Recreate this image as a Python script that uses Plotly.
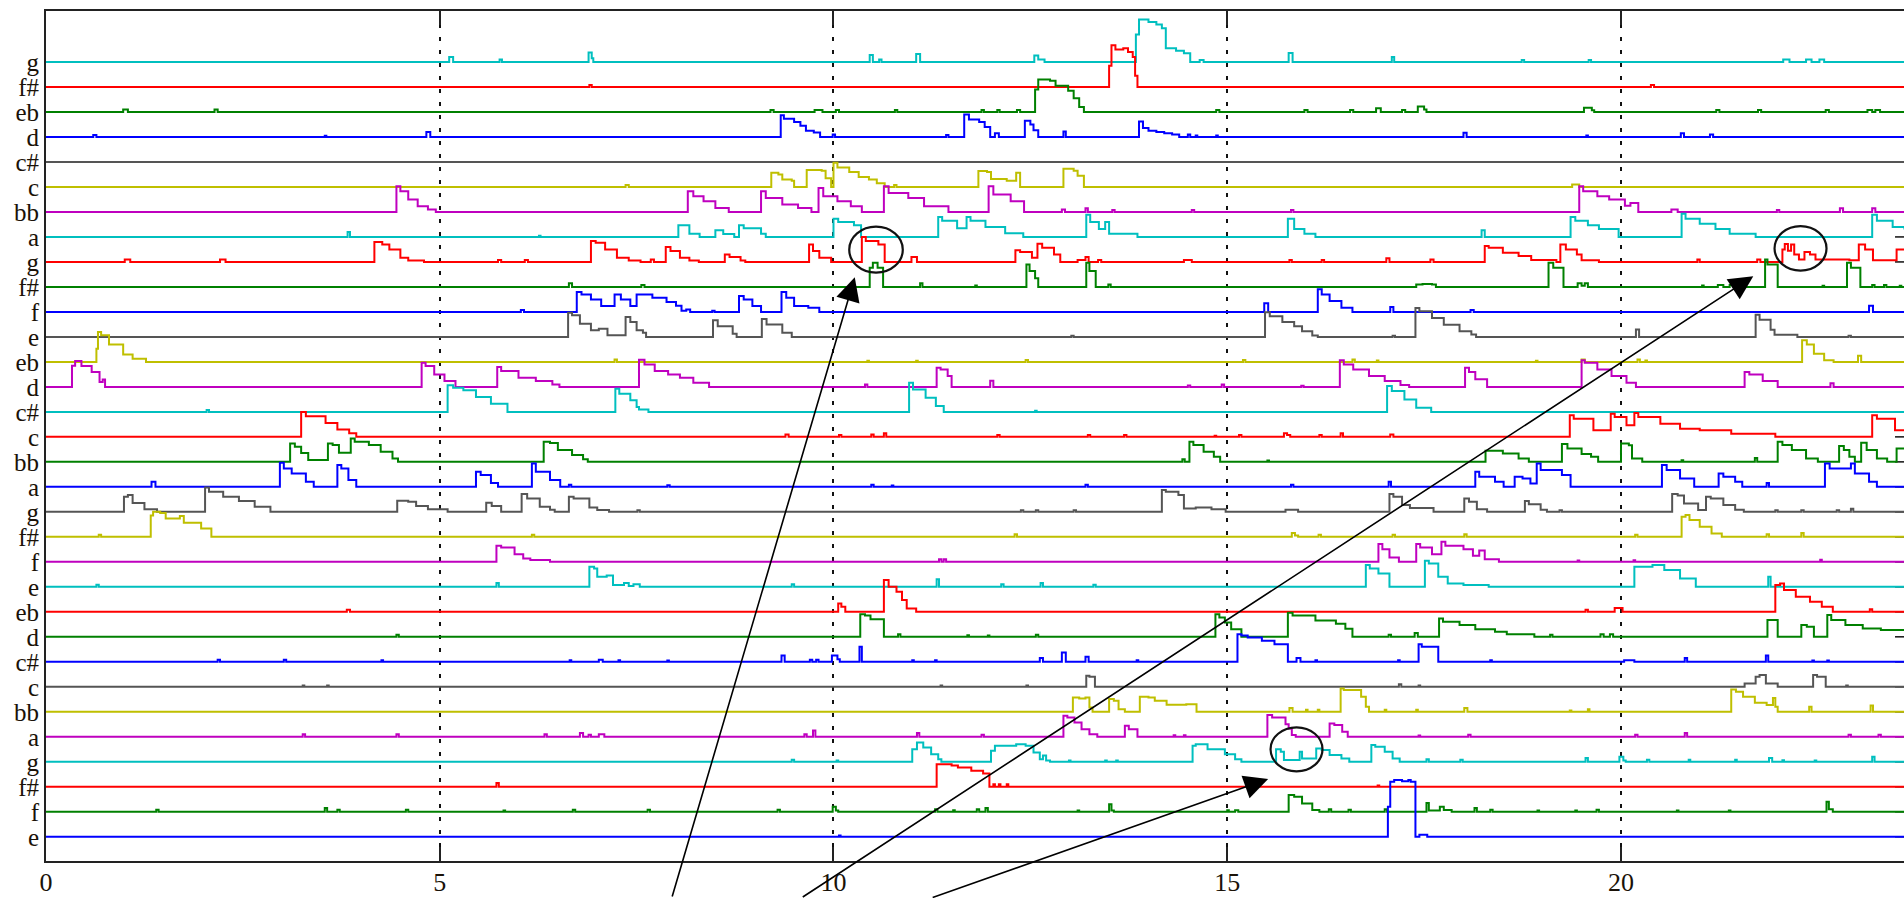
import plotly.graph_objects as go

# Pitch rows from bottom (index 0) to top (index 31)
row_labels = ["e", "f", "f#", "g", "a", "bb", "c", "c#", "d", "eb",
              "e", "f", "f#", "g", "a", "bb", "c", "c#", "d", "eb",
              "e", "f", "f#", "g", "a", "bb", "c", "c#", "d", "eb",
              "f#", "g"]

# Each row: (time in s, level above the row baseline) breakpoints of a step envelope
e_0 = [(10.07, 0.05), (10.09, 0), (17.04, 1.2), (17.07, 2.2), (17.12, 2.27), (17.22, 2.22), (17.3, 2.27),
       (17.33, 2.2), (17.39, 0), (17.44, 0.08), (17.54, 0)]
f_1 = [(1.4, 0.08), (1.43, 0), (3.54, 0.15), (3.57, 0), (3.7, 0.08), (3.73, 0), (4.57, 0.08), (4.6, 0),
       (5.81, 0.05), (5.83, 0), (6.69, 0.08), (6.72, 0), (7.64, 0.08), (7.67, 0), (9.29, 0.08), (9.32, 0),
       (9.99, 0.2), (10.03, 0.05), (10.06, 0), (11.29, 0.1), (11.32, 0), (11.52, 0.06), (11.54, 0),
       (11.82, 0.1), (11.85, 0), (11.93, 0.15), (11.96, 0), (13.1, 0.05), (13.12, 0), (13.5, 0.3),
       (13.53, 0.05), (13.56, 0), (15.0, 0.06), (15.02, 0), (15.1, 0.06), (15.14, 0), (15.78, 0.67),
       (15.85, 0.6), (15.95, 0.33), (16.08, 0.07), (16.17, 0), (16.29, 0.1), (16.32, 0), (16.54, 0.08),
       (16.57, 0), (17.0, 0.1), (17.03, 0), (17.53, 0.35), (17.56, 0.05), (17.7, 0.2), (17.75, 0.07),
       (17.85, 0), (18.14, 0.15), (18.17, 0), (18.34, 0.08), (18.37, 0), (18.94, 0.05), (18.96, 0),
       (19.42, 0.05), (19.44, 0), (19.69, 0.08), (19.72, 0), (20.71, 0.05), (20.73, 0), (21.37, 0.05),
       (21.39, 0), (22.61, 0.4), (22.64, 0.1), (22.69, 0)]
fs_2 = [(5.72, 0.15), (5.75, 0), (11.31, 0.9), (11.5, 0.85), (11.58, 0.77), (11.75, 0.64), (11.9, 0.53),
        (11.98, 0), (12.03, 0.1), (12.05, 0), (12.1, 0.1), (12.12, 0), (12.2, 0.1), (12.22, 0),
        (16.91, 0.05), (16.93, 0)]
g_3 = [(9.47, 0.08), (9.5, 0), (10.04, 0.05), (10.06, 0), (11.0, 0.5), (11.06, 0.77), (11.14, 0.57),
       (11.24, 0.3), (11.33, 0.1), (11.37, 0), (12.0, 0.44), (12.05, 0.64), (12.32, 0.7), (12.44, 0.64),
       (12.54, 0.37), (12.62, 0.1), (12.66, 0.25), (12.7, 0.05), (12.75, 0), (12.99, 0.05), (13.01, 0),
       (13.45, 0.05), (13.47, 0), (13.59, 0.05), (13.61, 0), (14.56, 0.64), (14.6, 0.7), (14.75, 0.5),
       (14.97, 0.3), (15.1, 0.1), (15.18, 0), (15.62, 0.5), (15.68, 0.4), (15.72, 0.07), (15.92, 0.4),
       (15.95, 0.13), (16.13, 0.53), (16.2, 0.47), (16.3, 0.27), (16.45, 0.13), (16.55, 0), (16.83, 0.67),
       (16.88, 0.6), (17.0, 0.4), (17.1, 0.13), (17.19, 0), (17.53, 0.1), (17.56, 0), (17.96, 0.08),
       (17.99, 0), (19.55, 0.15), (19.58, 0), (19.98, 0.2), (20.03, 0.05), (20.06, 0), (20.33, 0.08),
       (20.36, 0), (20.86, 0.08), (20.88, 0), (21.45, 0.08), (21.47, 0), (21.88, 0.15), (21.92, 0),
       (22.05, 0.06), (22.07, 0), (22.46, 0.05), (22.48, 0), (23.19, 0.2), (23.22, 0)]
a_4 = [(3.26, 0.1), (3.29, 0), (4.45, 0.1), (4.48, 0), (6.33, 0.1), (6.36, 0), (6.78, 0.15), (6.82, 0),
       (6.89, 0.08), (6.92, 0), (7.02, 0.1), (7.09, 0), (9.63, 0.1), (9.66, 0), (9.74, 0.25), (9.77, 0),
       (11.06, 0.15), (11.09, 0), (11.88, 0.08), (11.91, 0), (12.92, 0.84), (12.97, 0.77), (13.06, 0.57),
       (13.15, 0.3), (13.25, 0.1), (13.35, 0), (13.7, 0.44), (13.75, 0.3), (13.86, 0), (14.32, 0.06),
       (14.34, 0), (14.45, 0.06), (14.47, 0), (15.51, 0.87), (15.57, 0.77), (15.74, 0.5), (15.78, 0.33),
       (15.82, 0.07), (15.87, 0), (16.3, 0.53), (16.36, 0.47), (16.46, 0.2), (16.53, 0), (17.43, 0.05),
       (17.45, 0), (18.06, 0.08), (18.09, 0), (20.18, 0.08), (20.21, 0), (20.81, 0.15), (20.84, 0),
       (22.89, 0.08), (22.92, 0), (23.27, 0.08), (23.3, 0)]
bb_5 = [(13.04, 0.57), (13.12, 0.53), (13.2, 0.57), (13.25, 0.17), (13.29, 0), (13.5, 0.51), (13.56, 0.44),
        (13.62, 0.1), (13.7, 0), (13.89, 0.6), (14.0, 0.57), (14.08, 0.44), (14.23, 0.28), (14.48, 0.3),
        (14.61, 0), (15.79, 0.15), (15.83, 0), (16.0, 0.08), (16.02, 0), (16.15, 0.08), (16.17, 0),
        (16.44, 0.93), (16.48, 0.87), (16.7, 0.6), (16.76, 0.2), (16.8, 0), (17.0, 0.08), (17.02, 0),
        (17.4, 0.08), (17.42, 0), (18.01, 0.15), (18.05, 0), (19.35, 0.05), (19.37, 0), (19.58, 0.1),
        (19.6, 0), (21.4, 0.89), (21.46, 0.8), (21.55, 0.6), (21.7, 0.36), (21.85, 0.27), (21.93, 0.55),
        (21.96, 0.2), (21.99, 0), (22.39, 0.2), (22.42, 0), (23.17, 0.25), (23.2, 0)]
c_6 = [(3.26, 0.05), (3.28, 0), (3.57, 0.05), (3.59, 0), (11.36, 0.05), (11.38, 0), (12.45, 0.05),
       (12.47, 0), (13.21, 0.44), (13.25, 0.4), (13.32, 0), (17.18, 0.1), (17.21, 0), (17.43, 0.05),
       (17.45, 0), (21.57, 0.13), (21.71, 0.4), (21.76, 0.47), (21.84, 0.13), (21.99, 0), (22.44, 0.47),
       (22.49, 0.4), (22.6, 0), (22.86, 0.05), (22.88, 0)]
cs_7 = [(2.18, 0.08), (2.21, 0), (3.02, 0.08), (3.05, 0), (4.26, 0.06), (4.28, 0), (6.65, 0.06), (6.67, 0),
        (7.02, 0.08), (7.07, 0), (7.27, 0.06), (7.29, 0), (7.89, 0.05), (7.91, 0), (9.34, 0.25), (9.38, 0),
        (9.7, 0.08), (9.73, 0), (9.78, 0.08), (9.81, 0), (9.98, 0.25), (10.05, 0.1), (10.08, 0),
        (10.33, 0.6), (10.36, 0), (11.0, 0.06), (11.02, 0), (11.29, 0.06), (11.31, 0), (12.62, 0.15),
        (12.66, 0), (12.9, 0.37), (12.95, 0), (13.2, 0.2), (13.24, 0), (13.85, 0.06), (13.87, 0),
        (15.13, 1.1), (15.18, 1.05), (15.26, 0.97), (15.44, 0.84), (15.6, 0.7), (15.77, 0), (15.88, 0.15),
        (15.93, 0), (16.12, 0.06), (16.14, 0), (17.17, 0.06), (17.19, 0), (17.43, 0.7), (17.47, 0.6),
        (17.68, 0), (18.34, 0.06), (18.36, 0), (20.04, 0.06), (20.17, 0), (20.81, 0.15), (20.84, 0),
        (21.84, 0.25), (21.87, 0), (22.43, 0.05), (22.45, 0), (22.62, 0.05), (22.64, 0)]
d_8 = [(4.45, 0.08), (4.48, 0), (10.34, 0.9), (10.4, 0.85), (10.47, 0.7), (10.64, 0), (10.82, 0.1),
       (10.85, 0), (11.7, 0.06), (11.72, 0), (11.96, 0.05), (11.98, 0), (12.57, 0.08), (12.6, 0),
       (14.85, 0.9), (14.9, 0.77), (14.97, 0.57), (15.05, 0.3), (15.18, 0), (15.77, 0.96), (15.83, 0.85),
       (16.12, 0.65), (16.38, 0.52), (16.5, 0.32), (16.59, 0), (17.05, 0.08), (17.08, 0), (17.38, 0.15),
       (17.42, 0), (17.69, 0.73), (17.74, 0.6), (17.95, 0.47), (18.15, 0.3), (18.4, 0.2), (18.55, 0.1),
       (18.9, 0), (19.1, 0.08), (19.13, 0), (19.74, 0.1), (19.78, 0), (19.86, 0.1), (19.9, 0),
       (21.86, 0.67), (21.99, 0), (22.29, 0.47), (22.36, 0.4), (22.45, 0), (22.62, 0.87), (22.67, 0.67),
       (22.85, 0.47), (23.07, 0.33), (23.3, 0.27), (23.6, 0.25)]
eb_9 = [(3.82, 0.08), (3.86, 0), (10.06, 0.33), (10.1, 0.2), (10.15, 0), (10.64, 1.27), (10.7, 1.0),
        (10.8, 0.8), (10.87, 0.47), (10.93, 0.13), (11.05, 0), (19.55, 0.08), (19.58, 0), (19.92, 0.15),
        (19.97, 0.15), (20.02, 0), (21.96, 1.07), (22.02, 1.13), (22.07, 0.87), (22.22, 0.6), (22.4, 0.4),
        (22.55, 0.2), (22.69, 0), (23.16, 0.1), (23.19, 0)]
e_10 = [(0.64, 0.08), (0.67, 0), (5.72, 0.15), (5.75, 0), (6.9, 0.8), (6.96, 0.73), (7.0, 0.4),
        (7.12, 0.45), (7.2, 0.07), (7.34, 0.15), (7.4, 0.03), (7.46, 0.1), (7.54, 0), (9.47, 0.1),
        (9.5, 0), (11.31, 0.3), (11.34, 0), (12.13, 0.1), (12.16, 0), (12.63, 0.15), (12.66, 0),
        (13.3, 0.08), (13.33, 0), (16.76, 0.87), (16.81, 0.73), (16.92, 0.53), (17.06, 0), (17.51, 1.04),
        (17.56, 0.93), (17.68, 0.4), (17.8, 0.13), (18.0, 0.07), (18.32, 0), (20.17, 0.8), (20.4, 0.87),
        (20.55, 0.67), (20.75, 0.33), (20.95, 0), (21.87, 0.4), (21.9, 0)]
f_11 = [(5.72, 0.64), (5.78, 0.57), (5.95, 0.3), (6.06, 0.13), (6.15, 0.07), (6.4, 0), (11.34, 0.1),
        (11.37, 0), (11.4, 0.1), (11.43, 0), (16.92, 0.71), (16.97, 0.5), (17.06, 0.17), (17.18, 0),
        (17.4, 0.71), (17.45, 0.57), (17.6, 0.3), (17.72, 0.8), (17.77, 0.64), (18.0, 0.5), (18.12, 0.24),
        (18.2, 0.45), (18.27, 0.1), (18.45, 0), (19.45, 0.05), (19.47, 0), (20.16, 0.06), (20.18, 0),
        (22.53, 0.08), (22.55, 0)]
fs_12 = [(0.67, 0.08), (0.7, 0), (1.33, 0.85), (1.36, 1.0), (1.45, 0.95), (1.52, 0.73), (1.7, 0.83),
         (1.75, 0.56), (1.97, 0.33), (2.1, 0), (6.17, 0.08), (6.2, 0), (12.3, 0.1), (12.33, 0),
         (15.82, 0.15), (15.86, 0.05), (15.9, 0), (16.16, 0.08), (16.19, 0), (17.1, 0.08), (17.13, 0),
         (18.01, 0.1), (18.04, 0), (20.18, 0.08), (20.21, 0), (20.77, 0.8), (20.82, 0.87), (20.87, 0.67),
         (21.0, 0.4), (21.15, 0.13), (21.28, 0), (21.85, 0.1), (21.88, 0), (22.29, 0.15), (22.32, 0)]
g_13 = [(0.99, 0.6), (1.04, 0.67), (1.1, 0.35), (1.25, 0.1), (1.41, 0), (2.02, 0.97), (2.07, 0.8),
        (2.25, 0.6), (2.45, 0.43), (2.65, 0.2), (2.85, 0), (4.46, 0.44), (4.6, 0.4), (4.7, 0.23),
        (4.85, 0.1), (5.1, 0), (5.59, 0.36), (5.66, 0.23), (5.78, 0), (6.04, 0.71), (6.11, 0.53),
        (6.27, 0.2), (6.4, 0.08), (6.46, 0), (6.64, 0.6), (6.7, 0.53), (6.9, 0.17), (7.0, 0.07), (7.15, 0),
        (7.51, 0.06), (7.54, 0), (12.38, 0.06), (12.41, 0), (12.57, 0.06), (12.6, 0), (13.05, 0.06),
        (13.08, 0), (14.17, 0.87), (14.22, 0.8), (14.38, 0.67), (14.45, 0.13), (14.6, 0.17), (14.8, 0.1),
        (14.98, 0), (15.74, 0.08), (15.9, 0), (17.06, 0.71), (17.11, 0.6), (17.22, 0.27), (17.32, 0.15),
        (17.62, 0), (18.01, 0.53), (18.07, 0.4), (18.17, 0.1), (18.3, 0), (18.78, 0.43), (18.83, 0.3),
        (18.98, 0.08), (19.06, 0), (19.22, 0.06), (19.25, 0), (20.65, 0.71), (20.72, 0.65), (20.8, 0.33),
        (20.98, 0.07), (21.08, 0.6), (21.14, 0.53), (21.3, 0.27), (21.45, 0.08), (21.56, 0), (21.96, 0.06),
        (21.99, 0), (22.29, 0.06), (22.32, 0), (22.74, 0.06), (22.77, 0), (22.92, 0.12), (22.95, 0)]
a_14 = [(1.34, 0.2), (1.39, 0), (2.97, 0.96), (3.02, 0.73), (3.12, 0.53), (3.3, 0.2), (3.4, 0), (3.7, 0.87),
        (3.75, 0.73), (3.84, 0.27), (3.94, 0), (5.46, 0.6), (5.52, 0.47), (5.65, 0.15), (5.74, 0),
        (6.17, 0.93), (6.22, 0.6), (6.4, 0.27), (6.53, 0), (6.64, 0.08), (6.67, 0), (7.89, 0.06), (7.92, 0),
        (10.48, 0.08), (10.51, 0), (10.74, 0.05), (10.76, 0), (13.2, 0.08), (13.23, 0), (15.81, 0.08),
        (15.84, 0), (17.05, 0.2), (17.08, 0), (18.15, 0.6), (18.2, 0.4), (18.4, 0.2), (18.51, 0),
        (18.65, 0.4), (18.75, 0.33), (18.85, 0.13), (18.93, 0.93), (18.98, 0.67), (19.25, 0.47), (19.36, 0),
        (20.52, 0.87), (20.58, 0.67), (20.75, 0.33), (20.93, 0), (21.24, 0.53), (21.3, 0.4), (21.45, 0.2),
        (21.54, 0), (21.85, 0.15), (21.88, 0), (22.59, 0.93), (22.65, 0.73), (22.92, 0.93), (22.97, 0.53),
        (23.15, 0.2), (23.25, 0)]
bb_15 = [(3.1, 0.73), (3.16, 0.6), (3.24, 0.35), (3.33, 0.07), (3.58, 0.73), (3.64, 0.67), (3.72, 0.36),
         (3.87, 0.93), (3.92, 0.8), (4.1, 0.67), (4.25, 0.4), (4.4, 0.13), (4.47, 0), (6.32, 0.8),
         (6.4, 0.75), (6.5, 0.47), (6.68, 0.27), (6.82, 0.1), (6.88, 0), (14.43, 0.1), (14.46, 0),
         (14.52, 0.8), (14.57, 0.67), (14.7, 0.4), (14.83, 0.2), (14.91, 0), (15.51, 0.05), (15.53, 0),
         (18.28, 0.44), (18.5, 0.33), (18.7, 0.13), (18.83, 0), (19.25, 0.71), (19.32, 0.53), (19.5, 0.31),
         (19.62, 0.2), (19.71, 0), (20.0, 0.73), (20.1, 0.66), (20.14, 0.13), (20.27, 0), (20.77, 0.06),
         (20.79, 0), (21.7, 0.15), (21.73, 0), (21.99, 0.8), (22.05, 0.67), (22.17, 0.47), (22.35, 0.13),
         (22.5, 0), (22.77, 0.63), (22.83, 0.47), (22.9, 0.2), (22.97, 0), (23.05, 0.76), (23.12, 0.47),
         (23.25, 0.13), (23.38, 0), (23.5, 0.53), (23.6, 0.53)]
c_16 = [(3.24, 1.0), (3.3, 0.83), (3.55, 0.56), (3.7, 0.3), (3.85, 0.15), (3.94, 0), (9.39, 0.1), (9.43, 0),
        (10.07, 0.08), (10.1, 0), (10.48, 0.1), (10.51, 0), (10.64, 0.15), (10.67, 0), (12.08, 0.08),
        (12.11, 0), (13.23, 0.08), (13.26, 0), (13.69, 0.08), (13.72, 0), (14.84, 0.05), (14.86, 0),
        (15.15, 0.08), (15.18, 0), (15.72, 0.15), (15.76, 0.08), (15.8, 0), (16.17, 0.08), (16.2, 0),
        (16.44, 0.15), (16.47, 0), (17.07, 0.1), (17.11, 0), (19.35, 0.87), (19.4, 0.73), (19.65, 0.27),
        (19.87, 0.93), (19.92, 0.8), (20.07, 0.47), (20.17, 0.96), (20.22, 0.8), (20.5, 0.53),
        (20.75, 0.33), (21.0, 0.27), (21.4, 0.13), (21.96, 0), (23.19, 0.87), (23.25, 0.73), (23.48, 0.27),
        (23.6, 0.27)]
cs_17 = [(2.04, 0.08), (2.07, 0), (5.1, 1.07), (5.17, 0.97), (5.3, 0.87), (5.46, 0.6), (5.65, 0.33),
         (5.86, 0), (7.23, 0.93), (7.28, 0.73), (7.42, 0.47), (7.5, 0.2), (7.53, 0.1), (7.65, 0),
         (10.96, 1.17), (11.01, 0.9), (11.17, 0.57), (11.3, 0.24), (11.4, 0), (12.56, 0.05), (12.58, 0),
         (17.03, 1.04), (17.09, 0.84), (17.25, 0.5), (17.4, 0.17), (17.59, 0)]
d_18 = [(0.33, 0.85), (0.37, 1.04), (0.45, 0.84), (0.58, 0.6), (0.68, 0.2), (0.72, 0.3), (0.75, 0),
        (4.77, 0.97), (4.82, 0.84), (4.93, 0.5), (5.06, 0.24), (5.2, 0), (5.73, 0.8), (5.78, 0.64),
        (6.0, 0.37), (6.22, 0.24), (6.43, 0.1), (6.52, 0), (7.53, 1.09), (7.6, 0.9), (7.73, 0.64),
        (7.9, 0.5), (8.05, 0.37), (8.22, 0.17), (8.42, 0), (10.4, 0.1), (10.43, 0), (11.31, 0.77),
        (11.36, 0.7), (11.45, 0.44), (11.5, 0), (11.99, 0.25), (12.03, 0), (14.5, 0.06), (14.53, 0),
        (14.93, 0.1), (14.96, 0), (15.94, 0.05), (15.97, 0), (16.43, 1.07), (16.48, 0.9), (16.6, 0.7),
        (16.8, 0.44), (17.0, 0.24), (17.2, 0.08), (17.31, 0), (18.02, 0.77), (18.07, 0.6), (18.15, 0.31),
        (18.3, 0), (19.5, 1.07), (19.54, 0.97), (19.7, 0.7), (19.88, 0.44), (20.07, 0.17), (20.19, 0),
        (21.57, 0.6), (21.63, 0.5), (21.8, 0.24), (21.99, 0), (22.66, 0.15), (22.7, 0)]
eb_19 = [(0.64, 0.53), (0.66, 1.2), (0.7, 1.07), (0.8, 0.7), (0.98, 0.3), (1.1, 0.13), (1.27, 0),
         (7.22, 0.1), (7.25, 0), (10.43, 0.05), (10.45, 0), (11.05, 0.05), (11.07, 0), (12.44, 0.08),
         (12.47, 0), (15.2, 0.08), (15.23, 0), (16.59, 0.1), (16.62, 0), (16.9, 0.06), (16.92, 0),
         (18.92, 0.05), (18.94, 0), (19.5, 0.1), (19.54, 0), (20.21, 0.1), (20.24, 0), (20.31, 0.06),
         (20.33, 0), (22.3, 0.87), (22.36, 0.7), (22.45, 0.33), (22.58, 0.07), (22.7, 0), (23.01, 0.25),
         (23.05, 0)]
e_20 = [(6.63, 0.97), (6.68, 0.87), (6.78, 0.53), (6.92, 0.27), (7.02, 0.33), (7.13, 0.07), (7.36, 0.8),
        (7.42, 0.6), (7.5, 0.27), (7.58, 0.17), (7.62, 0), (8.47, 0.67), (8.53, 0.43), (8.72, 0.13),
        (8.77, 0), (9.09, 0.72), (9.15, 0.5), (9.35, 0.17), (9.47, 0), (13.02, 0.05), (13.05, 0),
        (15.48, 0.99), (15.54, 0.83), (15.7, 0.6), (15.85, 0.43), (15.95, 0.23), (16.08, 0.06), (16.15, 0),
        (17.1, 0.05), (17.13, 0), (17.39, 1.16), (17.44, 1.03), (17.6, 0.76), (17.75, 0.49), (17.95, 0.23),
        (18.1, 0.1), (18.16, 0), (20.19, 0.3), (20.23, 0), (21.71, 0.89), (21.76, 0.69), (21.9, 0.29),
        (21.95, 0.09), (22.24, 0), (22.89, 0.05), (22.92, 0)]
f_21 = [(6.03, 0.08), (6.07, 0), (6.74, 0.8), (6.8, 0.7), (6.92, 0.5), (7.05, 0.24), (7.22, 0.7),
        (7.3, 0.5), (7.42, 0.24), (7.5, 0.7), (7.7, 0.57), (7.88, 0.4), (8.0, 0.25), (8.07, 0.05),
        (8.13, 0.1), (8.18, 0), (8.46, 0.05), (8.49, 0), (8.8, 0.64), (8.86, 0.5), (8.97, 0.24), (9.08, 0),
        (9.34, 0.8), (9.4, 0.57), (9.5, 0.24), (9.68, 0.17), (9.82, 0), (15.47, 0.35), (15.52, 0),
        (16.15, 0.91), (16.2, 0.7), (16.3, 0.44), (16.45, 0.17), (16.59, 0), (17.07, 0.2), (17.11, 0),
        (18.09, 0.08), (18.13, 0), (23.15, 0.25), (23.2, 0)]
fs_22 = [(6.64, 0.15), (6.68, 0), (7.56, 0.08), (7.6, 0), (10.46, 0.77), (10.5, 0.97), (10.56, 0.77),
         (10.63, 0), (11.1, 0.15), (11.13, 0), (11.8, 0.06), (11.82, 0), (12.45, 0.9), (12.49, 0.64),
         (12.56, 0.35), (12.6, 0), (13.21, 0.97), (13.25, 0.64), (13.33, 0), (13.49, 0.1), (13.52, 0),
         (17.4, 0.1), (17.48, 0.12), (17.6, 0.1), (17.65, 0), (19.08, 0.97), (19.14, 0.77), (19.27, 0),
         (19.45, 0.15), (19.5, 0.05), (19.54, 0.15), (19.58, 0), (21.03, 0.06), (21.05, 0), (21.23, 0.08),
         (21.3, 0), (21.38, 0.08), (21.43, 0), (21.83, 1.1), (21.86, 0.9), (21.99, 0), (22.56, 0.05),
         (22.58, 0), (22.87, 0.97), (22.92, 0.77), (23.04, 0), (23.19, 0.08), (23.22, 0), (23.34, 0.08),
         (23.37, 0), (23.54, 0.05), (23.56, 0)]
g_23 = [(1.0, 0.1), (1.07, 0), (2.21, 0.1), (2.28, 0), (4.17, 0.8), (4.27, 0.7), (4.36, 0.5), (4.5, 0.17),
        (4.6, 0.06), (4.8, 0), (5.74, 0.08), (5.78, 0), (6.08, 0.08), (6.12, 0), (6.92, 0.84), (6.98, 0.77),
        (7.1, 0.5), (7.25, 0.17), (7.4, 0.06), (7.55, 0), (7.68, 0.1), (7.72, 0), (7.87, 0.6), (7.93, 0.44),
        (8.05, 0.17), (8.17, 0.06), (8.29, 0), (8.62, 0.3), (8.68, 0.2), (8.82, 0.06), (8.88, 0),
        (9.69, 0.7), (9.74, 0.44), (9.82, 0.17), (9.97, 0), (10.36, 1.0), (10.41, 0.84), (10.57, 0.7),
        (10.65, 0), (10.99, 0.2), (11.06, 0), (12.31, 0.47), (12.37, 0.4), (12.52, 0.17), (12.59, 0.73),
        (12.65, 0.57), (12.8, 0.3), (12.88, 0), (13.1, 0.08), (13.2, 0.2), (13.24, 0), (13.36, 0.08),
        (13.4, 0), (14.45, 0.08), (14.55, 0), (15.79, 0.08), (15.82, 0), (16.2, 0.08), (16.23, 0),
        (17.02, 0.15), (17.06, 0), (17.58, 0.1), (17.62, 0), (18.27, 0.64), (18.32, 0.57), (18.5, 0.37),
        (18.7, 0.24), (18.86, 0.08), (19.18, 0), (19.23, 0.7), (19.3, 0.5), (19.44, 0.3), (19.5, 0.07),
        (19.72, 0), (20.97, 0.1), (21.0, 0), (21.73, 0.1), (21.77, 0), (22.05, 0.5), (22.08, 0.72),
        (22.12, 0.45), (22.16, 0.7), (22.2, 0.3), (22.26, 0.1), (22.33, 0.4), (22.4, 0.3), (22.47, 0.1),
        (22.9, 0.07), (23.02, 0.7), (23.1, 0.5), (23.2, 0.07), (23.5, 0.5), (23.6, 0.5)]
a_24 = [(3.83, 0.2), (3.86, 0), (6.26, 0.05), (6.28, 0), (8.03, 0.47), (8.12, 0.47), (8.17, 0.13), (8.3, 0),
        (8.5, 0.27), (8.6, 0.12), (8.74, 0), (8.8, 0.47), (8.86, 0.35), (9.08, 0.13), (9.14, 0),
        (10.0, 0.73), (10.06, 0.6), (10.26, 0.47), (10.35, 0), (11.33, 0.8), (11.38, 0.65), (11.57, 0.35),
        (11.69, 0.8), (11.74, 0.65), (11.93, 0.4), (12.18, 0.15), (12.41, 0), (13.21, 0.89), (13.26, 0.6),
        (13.37, 0.32), (13.45, 0.6), (13.5, 0.13), (13.86, 0), (15.77, 0.73), (15.85, 0.32), (15.98, 0.13),
        (16.12, 0), (18.23, 0.27), (18.27, 0), (19.36, 0.8), (19.42, 0.65), (19.58, 0.47), (19.72, 0.32),
        (19.97, 0), (20.77, 0.93), (20.82, 0.73), (21.0, 0.53), (21.2, 0.32), (21.38, 0.13), (21.71, 0),
        (23.19, 0.89), (23.25, 0.65), (23.45, 0.4), (23.6, 0.3)]
bb_25 = [(4.45, 1.03), (4.5, 0.83), (4.6, 0.5), (4.72, 0.23), (4.85, 0.1), (4.95, 0), (8.15, 0.83),
         (8.22, 0.63), (8.35, 0.43), (8.5, 0.16), (8.67, 0), (9.08, 0.83), (9.14, 0.56), (9.35, 0.3),
         (9.55, 0.16), (9.72, 0), (9.81, 0.96), (9.87, 0.63), (10.05, 0.43), (10.22, 0.23), (10.36, 0),
         (10.64, 1.03), (10.7, 0.76), (10.95, 0.56), (11.15, 0.23), (11.46, 0), (11.97, 1.03), (12.03, 0.7),
         (12.25, 0.43), (12.42, 0), (12.9, 0.1), (12.94, 0), (13.2, 0.15), (13.23, 0), (13.54, 0.08),
         (13.57, 0), (14.55, 0.08), (14.58, 0), (15.81, 0.08), (15.84, 0), (19.47, 1.03), (19.52, 0.83),
         (19.7, 0.63), (19.85, 0.5), (20.05, 0.25), (20.12, 0.36), (20.22, 0), (20.64, 0.1), (20.72, 0),
         (21.98, 0.08), (22.01, 0), (22.78, 0.15), (22.82, 0), (23.19, 0.15), (23.23, 0)]
c_26 = [(7.36, 0.08), (7.4, 0), (9.21, 0.57), (9.3, 0.5), (9.35, 0.3), (9.47, 0.25), (9.5, 0), (9.66, 0.68),
        (9.85, 0.65), (9.9, 0.35), (9.97, 0), (10.0, 0.97), (10.05, 0.78), (10.2, 0.6), (10.32, 0.4),
        (10.45, 0.3), (10.55, 0.15), (10.65, 0), (10.77, 0.08), (10.8, 0), (11.84, 0.64), (11.95, 0.6),
        (12.0, 0.32), (12.2, 0.25), (12.32, 0.57), (12.37, 0), (12.92, 0.73), (13.05, 0.65), (13.1, 0.45),
        (13.18, 0), (19.38, 0.1), (19.47, 0)]
cs_27 = []
d_28 = [(0.6, 0.08), (0.64, 0), (3.54, 0.05), (3.56, 0), (4.83, 0.2), (4.88, 0), (9.33, 0.87), (9.37, 0.73),
        (9.5, 0.6), (9.58, 0.45), (9.65, 0.25), (9.75, 0.18), (9.83, 0), (9.99, 0.1), (10.02, 0),
        (11.43, 0.08), (11.46, 0), (11.66, 0.9), (11.72, 0.7), (11.85, 0.6), (11.92, 0.4), (11.99, 0),
        (12.05, 0.15), (12.1, 0), (12.43, 0.65), (12.5, 0.5), (12.54, 0.27), (12.6, 0), (12.92, 0.22),
        (12.95, 0), (13.88, 0.62), (13.93, 0.36), (14.0, 0.25), (14.1, 0.2), (14.2, 0.15), (14.3, 0.1),
        (14.39, 0), (14.5, 0.1), (14.53, 0), (14.6, 0.06), (14.62, 0), (14.86, 0.06), (14.88, 0),
        (18.0, 0.17), (18.04, 0), (19.56, 0.06), (19.58, 0), (20.76, 0.15), (20.8, 0), (21.13, 0.1),
        (21.17, 0)]
eb_29 = [(0.98, 0.1), (1.04, 0), (2.14, 0.1), (2.18, 0), (9.2, 0.08), (9.24, 0), (9.76, 0.08), (9.86, 0),
         (10.03, 0.08), (10.07, 0), (10.78, 0.08), (10.81, 0), (11.88, 0.08), (11.91, 0), (12.08, 0.08),
         (12.11, 0), (12.33, 0.08), (12.37, 0), (12.56, 0.9), (12.6, 1.3), (12.75, 1.25), (12.82, 1.05),
         (12.98, 0.85), (13.05, 0.55), (13.12, 0.2), (13.18, 0), (14.86, 0.08), (14.9, 0), (15.98, 0.08),
         (16.02, 0), (16.56, 0.08), (16.6, 0), (16.89, 0.15), (16.95, 0), (17.22, 0.08), (17.26, 0),
         (17.42, 0.22), (17.5, 0.1), (17.53, 0), (19.53, 0.17), (19.63, 0.07), (19.66, 0), (21.21, 0.08),
         (21.25, 0), (21.74, 0.08), (21.78, 0), (22.6, 0.08), (22.64, 0), (23.13, 0.08), (23.19, 0),
         (23.23, 0.08), (23.29, 0)]
fs_30 = [(6.9, 0.08), (6.93, 0), (13.5, 0.85), (13.53, 1.67), (13.58, 1.5), (13.68, 1.55), (13.74, 1.4),
         (13.8, 1.2), (13.83, 0.45), (13.86, 0), (20.38, 0.08), (20.42, 0)]
g_31 = [(5.12, 0.2), (5.17, 0), (5.76, 0.1), (5.79, 0), (6.89, 0.38), (6.93, 0.15), (6.95, 0),
        (10.46, 0.28), (10.5, 0), (10.58, 0.1), (10.61, 0), (11.05, 0.32), (11.1, 0), (12.55, 0.26),
        (12.6, 0.1), (12.68, 0), (13.84, 1.1), (13.88, 1.7), (14.0, 1.6), (14.1, 1.5), (14.17, 1.35),
        (14.22, 0.55), (14.35, 0.45), (14.45, 0.35), (14.53, 0), (14.65, 0.08), (14.7, 0), (15.78, 0.36),
        (15.83, 0), (17.09, 0.2), (17.12, 0), (18.74, 0.08), (18.77, 0), (19.59, 0.08), (19.62, 0),
        (22.06, 0.1), (22.14, 0), (22.35, 0.1), (22.42, 0), (22.52, 0.1), (22.58, 0)]

rows = [e_0, f_1, fs_2, g_3, a_4, bb_5, c_6, cs_7, d_8, eb_9,
        e_10, f_11, fs_12, g_13, a_14, bb_15, c_16, cs_17, d_18, eb_19,
        e_20, f_21, fs_22, g_23, a_24, bb_25, c_26, cs_27, d_28, eb_29,
        fs_30, g_31]

x_ticks = [0, 5, 10, 15, 20]
t_end = 23.6

# Highlighted regions (centre time, centre row, half width, half height)
ring_centres_t = [10.54, 22.28, 15.88]
ring_centres_row = [23.49, 23.54, 3.5]
ring_half_t = [0.34, 0.33, 0.33]
ring_half_row = [0.92, 0.89, 0.88]

# Pointer arrows: head position (time, row) and tail offset in pixels
arrow_head_t = [10.27, 21.68, 15.52]
arrow_head_row = [22.39, 22.43, 2.31]
arrow_tail_dx = [-183, -952, -337]
arrow_tail_dy = [628, 629, 126]

palette = ["#0000FF", "#008000", "#FF0000", "#00BFBF", "#BF00BF", "#BFBF00", "#555555"]

fig = go.Figure()

# draw the upper rows first so lower rows sit on top where envelopes overlap
for k in reversed(range(len(rows))):
    pts = rows[k]
    xs = [0.0] + [p[0] for p in pts]
    ys = [k] + [k + p[1] for p in pts]
    if xs[-1] < t_end:
        xs.append(t_end)
        ys.append(ys[-1])
    fig.add_trace(go.Scatter(
        x=xs, y=ys, mode="lines",
        line=dict(color=palette[k % 7], width=2, shape="hv"),
        hoverinfo="skip", showlegend=False,
    ))

shapes = []
# short inward ticks along the right edge, hidden under flat baselines
for k in range(len(rows)):
    shapes.append(dict(type="line", xref="x", yref="y", x0=23.48, x1=23.7, y0=k, y1=k,
                       line=dict(color="#111111", width=1.5), layer="below"))
for cx, cy, hx, hy in zip(ring_centres_t, ring_centres_row, ring_half_t, ring_half_row):
    shapes.append(dict(type="circle", xref="x", yref="y",
                       x0=cx - hx, x1=cx + hx, y0=cy - hy, y1=cy + hy,
                       line=dict(color="#111111", width=2.2)))

annotations = []
for ht, hr, dx, dy in zip(arrow_head_t, arrow_head_row, arrow_tail_dx, arrow_tail_dy):
    annotations.append(dict(x=ht, y=hr, xref="x", yref="y", ax=dx, ay=dy,
                            axref="pixel", ayref="pixel", text="", showarrow=True,
                            arrowhead=2, arrowsize=3, arrowwidth=1.6,
                            arrowcolor="#000000", standoff=0, startstandoff=0))

serif = "Liberation Serif, Times New Roman, serif"

fig.update_layout(
    width=1904, height=898,
    margin=dict(l=46, r=0, t=11, b=37, autoexpand=False),
    paper_bgcolor="white", plot_bgcolor="white",
    shapes=shapes, annotations=annotations,
    xaxis=dict(
        range=[0, 23.594], tickvals=x_ticks, ticktext=[str(v) for v in x_ticks],
        ticks="inside", ticklen=14, tickwidth=2, tickcolor="#222222",
        showline=True, linewidth=2, linecolor="#222222", mirror="ticks",
        showgrid=True, gridcolor="#111111", gridwidth=2, griddash="4px,9px",
        zeroline=False, automargin=False, ticklabelstandoff=-3,
        tickfont=dict(family=serif, size=26, color="#1a1208"),
    ),
    yaxis=dict(
        range=[-0.97, 33.04], tickvals=list(range(len(row_labels))), ticktext=row_labels,
        ticks="", showline=True, linewidth=2, linecolor="#222222",
        showgrid=False, zeroline=False, automargin=False, ticklabelstandoff=0,
        tickfont=dict(family=serif, size=25, color="#1a1208"),
    ),
)

fig.write_html("out.html")
